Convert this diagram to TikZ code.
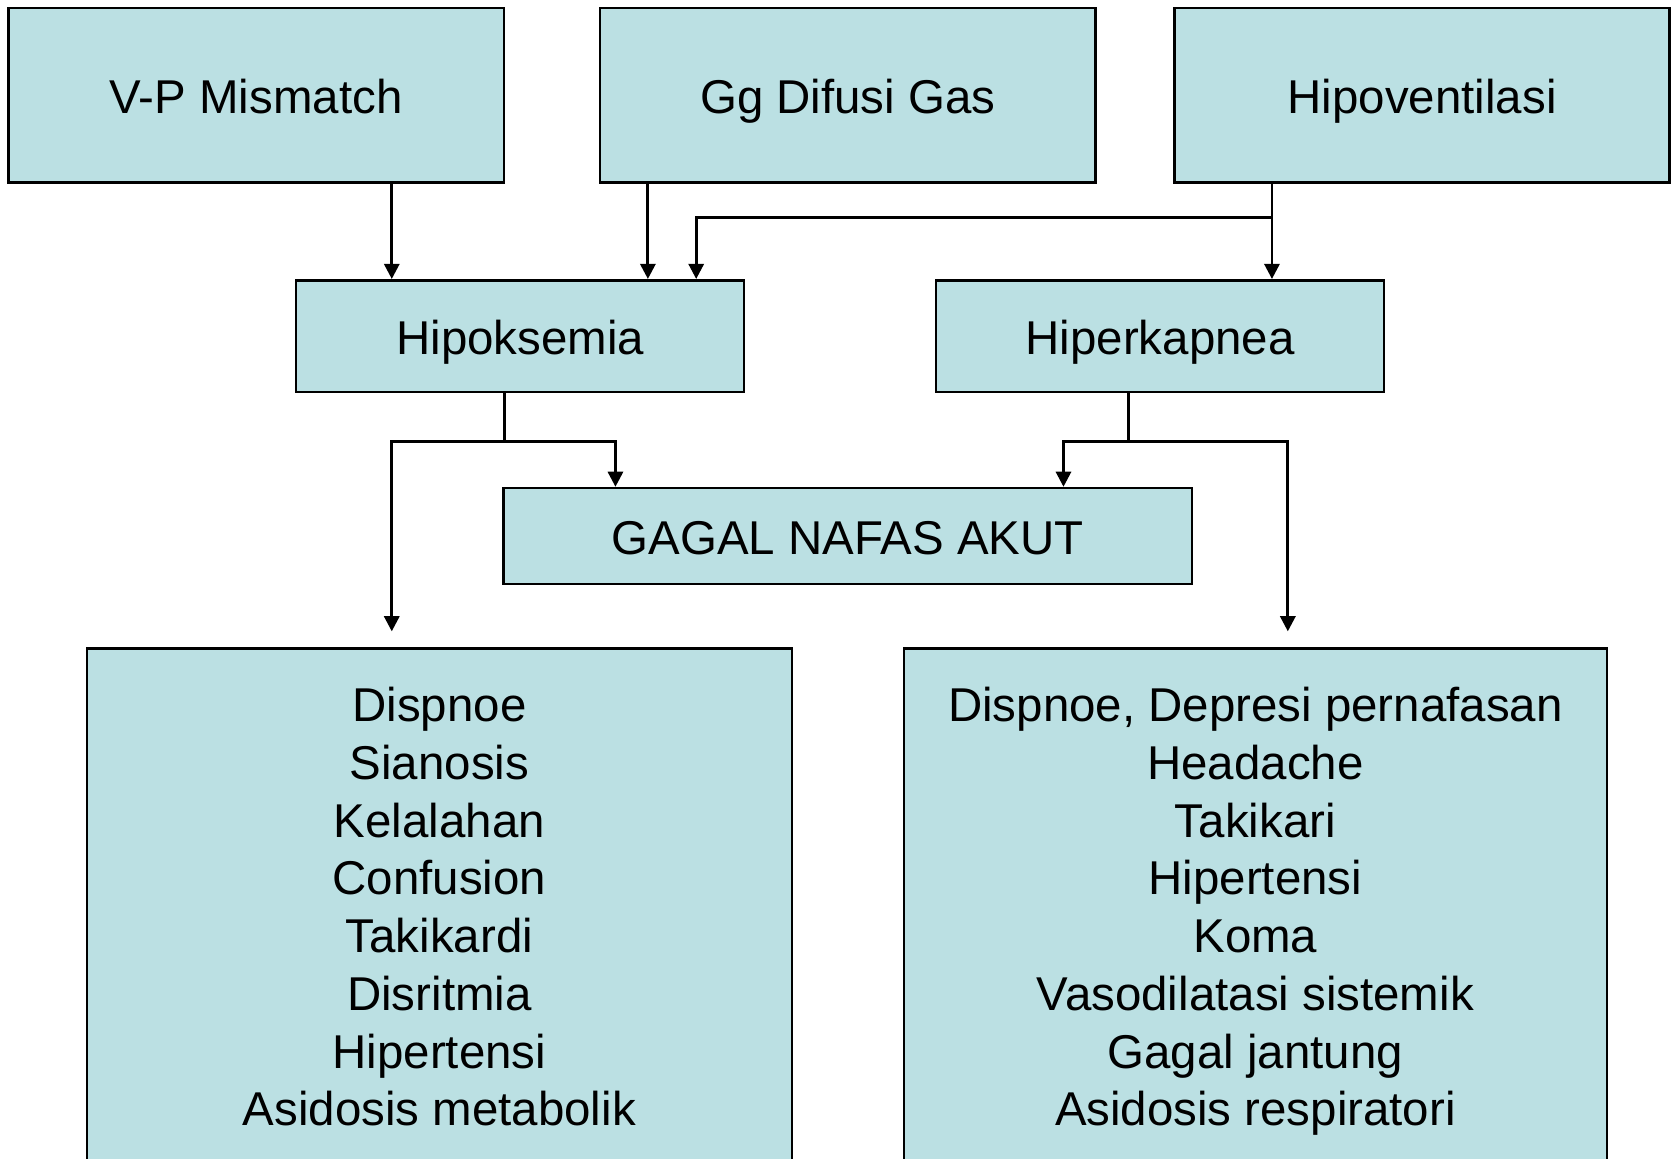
\documentclass[tikz,border=0pt]{standalone}
\usepackage{fontspec}
\setmainfont{Liberation Sans}
\usepackage{tikz}
\usetikzlibrary{positioning, arrows.meta}

\definecolor{biru}{RGB}{187,224,227}
\tikzset{
  kotak/.style={draw=black, fill=biru, line width=1.1pt, align=center, inner sep=0pt,
    font=\fontsize{20.4}{24.8}\selectfont},
  sebaris/.style={kotak, text height=15.5pt, text depth=0pt},
  panah/.style={-{Triangle[length=6.5pt,width=6.5pt]}, line width=1.2pt},
}

\begin{document}
\begin{tikzpicture}
\useasboundingbox (0,0) rectangle (25.25,-17.50);

% Ursachen
\node[sebaris, minimum width=7.49cm, minimum height=2.64cm] (vp) at (3.87,-1.44) {V-P Mismatch};
\node[sebaris, minimum width=7.49cm, minimum height=2.64cm] (gg) at (12.81,-1.44) {Gg Difusi Gas};
\node[sebaris, minimum width=7.48cm, minimum height=2.64cm] (hv) at (21.49,-1.44) {Hipoventilasi};

% Zwischenstufe
\node[sebaris, minimum width=6.77cm, minimum height=1.69cm] (hipo) at (7.86,-5.08) {Hipoksemia};
\node[sebaris, minimum width=6.77cm, minimum height=1.69cm] (hiper) at (17.53,-5.08) {Hiperkapnea};
\node[sebaris, minimum width=10.40cm, minimum height=1.45cm] (gagal) at (12.81,-8.10) {GAGAL NAFAS AKUT};

% Gejala
\node[kotak, anchor=north, minimum width=10.65cm, inner ysep=0.59cm] (gejalaA) at (6.64,-9.78)
  {Dispnoe\\Sianosis\\Kelalahan\\Confusion\\Takikardi\\Disritmia\\Hipertensi\\Asidosis metabolik};
\node[kotak, anchor=north, minimum width=10.62cm, inner ysep=0.59cm] (gejalaB) at (18.97,-9.78)
  {Dispnoe, Depresi pernafasan\\Headache\\Takikari\\Hipertensi\\Koma\\Vasodilatasi sistemik\\Gagal jantung\\Asidosis respiratori};

% Pfeile oben
\draw[panah] ([xshift=2.05cm]vp.south) -- ([xshift=2.05cm]vp.south |- hipo.north);
\draw[panah] ([xshift=-3.02cm]gg.south) -- ([xshift=-3.02cm]gg.south |- hipo.north);
\draw[panah] ([xshift=-2.27cm]hv.south) -- ([xshift=-2.27cm]hv.south |- hiper.north);
\draw[panah] ([xshift=-2.27cm]hv.south) -- ++(0,-0.51) -| ([xshift=2.66cm]hipo.north);

% Pfeile unten
\draw[panah] ([xshift=-0.24cm]hipo.south) -- ++(0,-0.73) -| ([xshift=-3.51cm]gagal.north);
\draw[panah] ([xshift=-0.24cm]hipo.south) -- ++(0,-0.73) -| ([xshift=-0.72cm,yshift=0.24cm]gejalaA.north);
\draw[panah] ([xshift=-0.48cm]hiper.south) -- ++(0,-0.73) -| ([xshift=3.26cm]gagal.north);
\draw[panah] ([xshift=-0.48cm]hiper.south) -- ++(0,-0.73) -| ([xshift=0.49cm,yshift=0.24cm]gejalaB.north);
\end{tikzpicture}
\end{document}
